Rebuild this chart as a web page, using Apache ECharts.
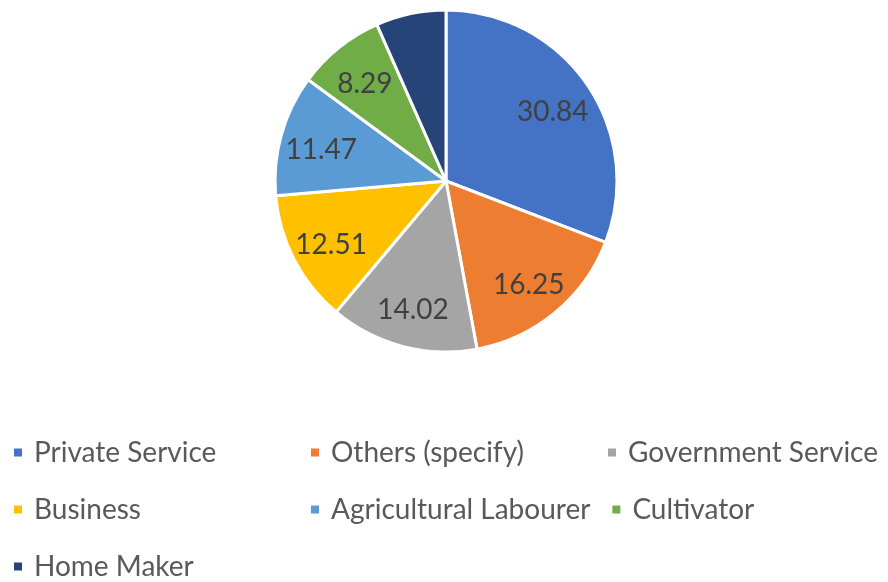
<!DOCTYPE html>
<html>
<head>
<meta charset="utf-8">
<script src="https://cdn.jsdelivr.net/npm/echarts@6/dist/echarts.min.js"></script>
<style>
  html, body { margin: 0; padding: 0; background: #fff; }
  #chart { width: 888px; height: 582px; }
</style>
</head>
<body>
<div id="chart"></div>
<script>
// Occupation shares (%)
const categories = ['Private Service', 'Others (specify)', 'Government Service', 'Business', 'Agricultural Labourer', 'Cultivator', 'Home Maker'];
const values = [30.84, 16.25, 14.02, 12.51, 11.47, 8.29, 6.62];
const showLabel = [true, true, true, true, true, true, false];
const colors = ['#4472C4', '#ED7D31', '#A5A5A5', '#FFC000', '#5B9BD5', '#70AD47', '#264478'];

const FONT = 'Lato';
const center = [446, 181];
const R = 171;

const sliceData = categories.map((name, i) => ({
  name: name,
  value: values[i],
  itemStyle: { color: colors[i] }
}));

// Label layer: same slices, transparent, ring-shaped so the inside labels sit further out
const labelData = categories.map((name, i) => ({
  name: name,
  value: values[i],
  label: { show: showLabel[i] }
}));

const chart = echarts.init(document.getElementById('chart'), null, { renderer: 'canvas' });
chart.setOption({
  animation: false,
  color: colors,
  legend: {
    data: categories,
    left: 12,
    top: 434,
    width: 880,
    padding: 0,
    orient: 'horizontal',
    icon: 'rect',
    itemWidth: 10,
    itemHeight: 10,
    itemGap: 20,
    textStyle: {
      fontFamily: FONT,
      fontSize: 28,
      color: '#595959',
      width: 255,
      lineHeight: 37,
      padding: [0, 0, 0, 6],
      overflow: 'none'
    }
  },
  series: [
    {
      type: 'pie',
      center: center,
      radius: [0, R],
      startAngle: 90,
      clockwise: true,
      silent: true,
      data: sliceData,
      itemStyle: { borderColor: '#ffffff', borderWidth: 3 },
      label: { show: false },
      labelLine: { show: false }
    },
    {
      type: 'pie',
      center: center,
      radius: [R * 0.48, R],
      startAngle: 90,
      clockwise: true,
      silent: true,
      data: labelData,
      itemStyle: { color: 'rgba(0,0,0,0)' },
      label: {
        position: 'inside',
        formatter: p => p.value.toFixed(2),
        fontFamily: FONT,
        fontSize: 28,
        color: '#404040',
        offset: [0, 4]
      },
      labelLine: { show: false }
    }
  ]
});
</script>
</body>
</html>
